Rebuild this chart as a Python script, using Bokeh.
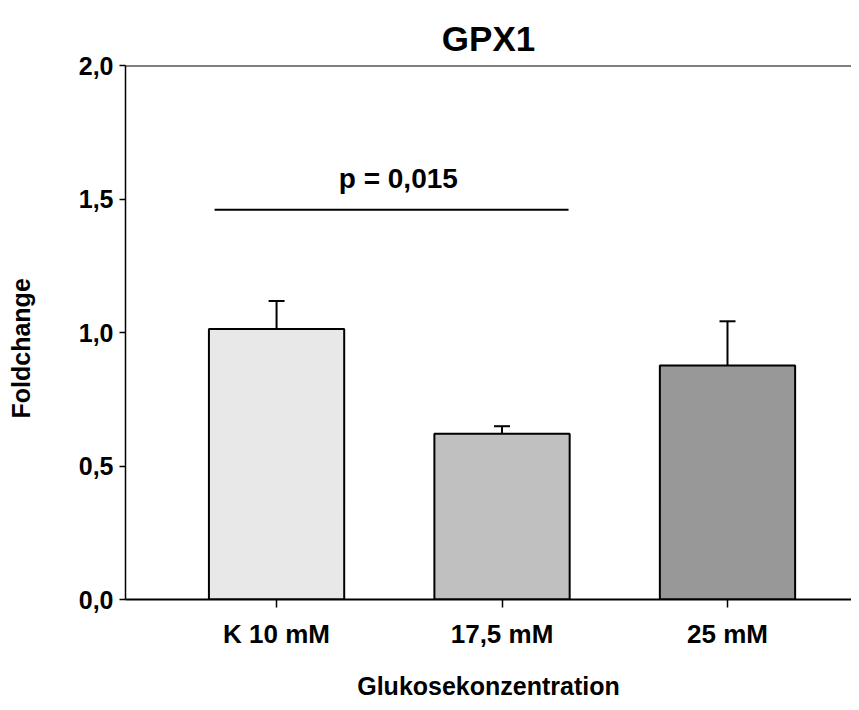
from bokeh.plotting import figure
from bokeh.models import ColumnDataSource, Whisker, TeeHead, Span, Range1d, Label, Title
from bokeh.embed import file_html
from bokeh.resources import INLINE

# ---- data ----
categories = ["K 10 mM", "17,5 mM", "25 mM"]
positions = [1, 2, 3]
values = [1.013, 0.621, 0.876]
err_upper = [1.118, 0.649, 1.042]
colors = ["#e8e8e8", "#c0c0c0", "#989898"]
y_ticks = [0.0, 0.5, 1.0, 1.5, 2.0]
y_tick_labels = ["0,0", "0,5", "1,0", "1,5", "2,0"]
sig_x = [0.725, 2.295]
sig_y = 1.46
sig_text = "p = 0,015"
sig_text_x = 1.54
sig_text_y = 1.575

FONT = "Liberation Sans"

p = figure(width=851, height=702, x_range=Range1d(0.33, 3.55), y_range=Range1d(0, 2.0),
           output_backend="svg", toolbar_location=None,
           min_border_left=125, min_border_right=0, min_border_top=65, min_border_bottom=101)

p.title.text = "GPX1"
p.title.align = "center"
p.title.text_font = FONT
p.title.text_font_size = "35px"
p.title.text_font_style = "bold"
p.title.text_color = "black"
p.title.standoff = 16

# y axis title as a left-side title
ytitle = Title(text="Foldchange", align="left", offset=181, standoff=9,
               text_font=FONT, text_font_size="25px", text_font_style="bold",
               text_color="black")
p.add_layout(ytitle, "left")

p.outline_line_color = None
p.grid.visible = False
p.background_fill_color = "white"
p.border_fill_color = "white"

src = ColumnDataSource(dict(x=positions, top=values, upper=err_upper, color=colors))
p.vbar(x="x", top="top", bottom=0, width=0.6, fill_color="color",
       line_color="black", line_width=2, source=src)

wh = Whisker(base="x", lower="top", upper="upper", source=src, dimension="height",
             line_color="black", line_width=2,
             upper_head=TeeHead(size=16, line_color="black", line_width=2),
             lower_head=None)
p.add_layout(wh)

# top frame line
p.add_layout(Span(location=2.0, dimension="width", line_color="black", line_width=2))

# significance bar
p.line(x=sig_x, y=[sig_y, sig_y], line_color="black", line_width=2)
p.add_layout(Label(x=sig_text_x, y=sig_text_y, text=sig_text, text_align="center",
                   text_baseline="middle", text_font=FONT, text_font_size="28px",
                   text_font_style="bold", text_color="black"))

# axes
p.xaxis.ticker = positions
p.xaxis.major_label_overrides = {pos: c for pos, c in zip(positions, categories)}
p.yaxis.ticker = y_ticks
p.yaxis.major_label_overrides = {t: l for t, l in zip(y_ticks, y_tick_labels)}

for ax in (p.xaxis[0], p.yaxis[0]):
    ax.axis_line_color = "black"
    ax.major_tick_line_color = "black"
    ax.minor_tick_line_color = None
    ax.major_tick_in = 0
    ax.major_label_text_font = FONT
    ax.major_label_text_font_style = "bold"
    ax.major_label_text_color = "black"
    ax.axis_label_text_font = FONT
    ax.axis_label_text_font_style = "bold"
    ax.axis_label_text_color = "black"

p.xaxis.axis_line_width = 2
p.xaxis.major_tick_line_width = 1.5
p.xaxis.major_tick_out = 8
p.xaxis.major_label_text_font_size = "26px"
p.xaxis.major_label_standoff = 11
p.xaxis.axis_label = "Glukosekonzentration"
p.xaxis.axis_label_text_font_size = "25px"
p.xaxis.axis_label_standoff = 20

p.yaxis.axis_line_width = 1.5
p.yaxis.major_tick_line_width = 1.5
p.yaxis.major_tick_out = 6
p.yaxis.major_label_text_font_size = "25px"
p.yaxis.major_label_standoff = 6
# blank axis label used only as spacing between tick labels and the y title
p.yaxis.axis_label = " "
p.yaxis.axis_label_text_font_size = "25px"
p.yaxis.axis_label_standoff = 5

open("out.html", "w").write(file_html(p, INLINE))
